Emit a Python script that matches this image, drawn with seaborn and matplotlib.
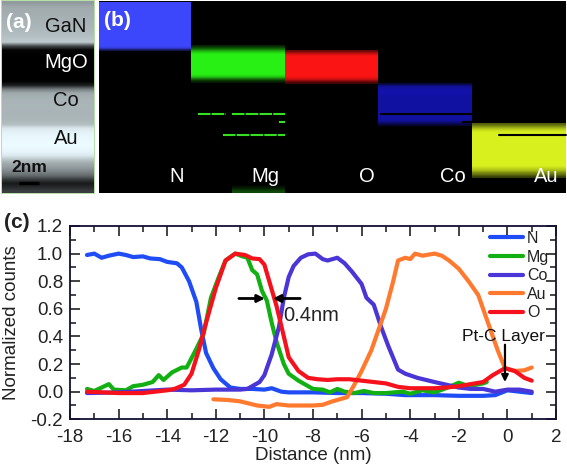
import numpy as np
import pandas as pd
import matplotlib
matplotlib.use("Agg")
import matplotlib.pyplot as plt
from matplotlib.ticker import MultipleLocator
import seaborn as sns

sns.set_theme(style="ticks")
plt.rcParams['font.family'] = ['Liberation Sans', 'DejaVu Sans']
plt.rcParams['axes.unicode_minus'] = False

# ---- line profile data ----
n_x = [-17.3,-17,-16.7,-16.4,-16,-15.7,-15.4,-15,-14.7,-14.3,-14,-13.6,-13.4,-13.1,-12.8,-12.6,-12.4,-12.1,-11.8,-11.4,-11,-10.5,-10,-9.7,-9.3,-9,-8,-7,-6,-5,-4.2,-4,-3,-2,-1,-0.5,0,0.5,1]
n_y = [.99,1.0,.97,.985,1.0,.99,.975,.98,.965,.96,.94,.93,.9,.8,.65,.45,.28,.17,.09,.03,.02,.02,.015,.025,.0,-.005,-.005,-.01,-.01,-.015,-.025,-.025,-.025,-.03,-.03,-.025,.01,.0,-.01]
mg_x = [-17.3,-17,-16.7,-16.4,-16.2,-15.7,-15.4,-15,-14.6,-14.35,-14.15,-13.8,-13.4,-13.2,-12.8,-12.5,-12.2,-11.9,-11.6,-11.2,-10.9,-10.7,-10.5,-10.3,-10.1,-9.9,-9.7,-9.5,-9.2,-9,-8.6,-8.3,-8,-7.6,-7.3,-7,-6.7,-6.3,-5.9,-5.5,-5,-4.3,-4,-3.5,-3,-2.6,-2,-1.6,-1,-0.85]
mg_y = [.02,.005,.03,.055,.015,.01,.04,.05,.07,.12,.085,.14,.175,.175,.31,.42,.68,.82,.95,1.0,.98,.97,.88,.85,.73,.66,.5,.36,.2,.13,.08,.05,.02,.015,-.005,.02,.0,-.01,.005,-.01,-.01,.0,-.015,.01,-.005,.02,.065,.04,.06,.07]
co_x = [-17.3,-16,-15,-14,-13,-12,-11,-10.7,-10.2,-10,-9.7,-9.4,-9.2,-9,-8.8,-8.5,-8.2,-7.9,-7.6,-7.4,-7,-6.7,-6.4,-6,-5.8,-5.5,-5.2,-4.9,-4.5,-4.2,-3.7,-3,-2.5,-2,-1.5,-1,-0.5,0,0.5,1]
co_y = [-.01,-.005,.005,.015,.01,.015,.015,.02,.07,.12,.27,.47,.68,.83,.91,.97,.995,1.0,.96,.95,.97,.93,.87,.78,.68,.63,.47,.33,.16,.13,.1,.07,.05,.03,.02,.02,.0,.015,.015,.0]
au_x = [-12.1,-11.5,-11,-10.3,-9.8,-9.5,-9,-8.5,-8,-7.6,-7.2,-6.6,-6.3,-6,-5.6,-5.3,-5,-4.7,-4.5,-4.2,-4,-3.8,-3.5,-3,-2.7,-2.4,-2,-1.6,-1.2,-0.8,-0.4,-0.1,0.3,0.7,1]
au_y = [-.055,-.06,-.07,-.1,-.11,-.09,-.1,-.1,-.1,-.095,-.07,-.04,.05,.15,.3,.45,.6,.8,.95,.97,.96,1.0,.985,1.0,.985,.95,.89,.8,.7,.5,.3,.17,.15,.155,.175]
o_x = [-17.3,-16,-15,-14.5,-14,-13.7,-13.3,-13,-12.7,-12.4,-12,-11.6,-11.2,-10.8,-10.5,-10.2,-10,-9.8,-9.5,-9.2,-9,-8.6,-8.2,-7.8,-7.4,-7,-6.5,-6,-5.5,-5,-4.5,-4,-3,-2.5,-2,-1.5,-1,-0.6,-0.1,0.3,0.7,1]
o_y = [0,-.01,-.01,0,.01,.02,.05,.13,.3,.5,.75,.95,1.0,.99,.965,.96,.92,.8,.62,.4,.25,.15,.1,.09,.085,.09,.09,.08,.07,.06,.035,.025,.025,.03,.04,.055,.07,.12,.17,.15,.1,.08]

series_names = ["N", "Mg", "Co", "Au", "O"]
series_x = [n_x, mg_x, co_x, au_x, o_x]
series_y = [n_y, mg_y, co_y, au_y, o_y]
series_colors = ["#1f4cf5", "#12b012", "#4a35d6", "#ff7a2e", "#f5121c"]

# ---- image panel data ----
stem_rows = [150,165,168,170,172,174,176,180,184,190,195,70,5,2,0,0,0,0,0,0,2,30,120,165,172,175,176,176,175,176,178,185,225,235,240,242,244,242,238,225,190,165,150,130,105,60,25,40,60]
band_colors = [(60,70,250), (40,240,20), (250,20,20), (20,20,190), (215,240,30)]
band_rows = [[1]*24 + [.85, .3],
             [.15,.3,.5,.75,.9,1,1,1,1,1,1,1,1,1,1,1,1,.95,.8,.5,.25,.1],
             [.4,.65,.85,1,1,1,1,1,1,1,1,1,1,1,1,1,.9,.75,.45,.25],
             [.3,.75,.85,.9,.9,.9,.85,.85,.85,.85,.85,.85,.85,.85,.85,.85,.85,.85,.8,.55,.25],
             [.4,.6,.8,.95,1,1,1,1,1,1,1,1,1,1,1,1,1,1,1,1,.9,.8,.6,.45,.25]]

fig = plt.figure(figsize=(5.67, 4.66), dpi=100)
bg = fig.add_axes([0, 0, 1, 1])

# panel (a)
stem = np.array(stem_rows)[:, None, None] * np.array([0.97, 1.03, 1.05])[None, None, :] / 255
bg.add_patch(plt.Rectangle((1, 0), 94, 194, fc="#b7e0a8", ec="none", zorder=-1))
bg.imshow(np.clip(stem, 0, 1), extent=(2, 94, 193, 1), aspect="auto", interpolation="bilinear")
# panel (b)
bg.imshow(np.zeros((1, 1, 3)), extent=(99, 566, 193, 1), aspect="auto")
band_boxes = [(99,191,2,51), (191,285,45,83), (285,378,50,84), (378,472,83,126), (472,566,123,178)]
for rows, col, box in zip(band_rows, band_colors, band_boxes):
    arr = (np.array(rows)[:, None, None] * np.array(col)[None, None, :]).astype(np.uint8)
    bg.imshow(arr, extent=(box[0], box[1], box[3], box[2]), aspect="auto", interpolation="bilinear")
faint = (np.array([0, .12, .3])[:, None, None] * np.array((40, 240, 20))[None, None, :]).astype(np.uint8)
bg.imshow(faint, extent=(232, 285, 193, 183), aspect="auto", interpolation="bilinear")
# detector artefact streaks
for x0, x1, y in [(198,226,113.5),(232,285,113.5),(279,285,122),(223,285,134.5)]:
    bg.plot([x0, x1], [y, y], color="#35e020", lw=1.5, ls=(0, (6, 0.6)), solid_capstyle="butt")
for x0, x1, y in [(381,472,114),(463,472,122),(499,566,134.5)]:
    bg.plot([x0, x1], [y, y], color="black", lw=1.5)
bg.set_xlim(0, 567); bg.set_ylim(466, 0); bg.axis("off")

for s, x, y, c in [("GaN",66,26,"#111111"),("MgO",66,63,"white"),("Co",66,101,"#111111"),("Au",66,139,"#111111")]:
    bg.text(x, y, s, color=c, fontsize=14.5, ha="center", va="center")
bg.text(6, 22, "(a)", color="white", fontsize=15, fontweight="bold", va="center")
bg.text(29, 167, "2nm", color="#111111", fontsize=12.5, fontweight="bold", ha="center", va="center")
bg.plot([19, 39], [183, 183], color="black", lw=2.5, solid_capstyle="butt")
bg.text(104, 20, "(b)", color="white", fontsize=15, fontweight="bold", va="center")
for s, x in [("N",177),("Mg",265),("O",367),("Co",453),("Au",546)]:
    bg.text(x, 177, s, color="white", fontsize=14.5, ha="center", va="center")
bg.text(4, 222, "(c)", color="#222222", fontsize=15, fontweight="bold", va="center")

# panel (c)
ax = fig.add_axes([70/567, 1-419.3/466, 486/567, 193.3/466])
for name, x, y, c in zip(series_names, series_x, series_y, series_colors):
    df = pd.DataFrame({"Distance (nm)": x, "Normalized counts": y})
    sns.lineplot(data=df, x="Distance (nm)", y="Normalized counts", ax=ax, color=c,
                 lw=3, label=name, estimator=None, sort=False)
ax.set_xlim(-18, 2); ax.set_ylim(-0.2, 1.2)
ax.xaxis.set_major_locator(MultipleLocator(2)); ax.xaxis.set_minor_locator(MultipleLocator(1))
ax.set_yticks(np.arange(-0.2, 1.21, 0.2))
ax.yaxis.set_minor_locator(MultipleLocator(0.1))
ax.tick_params(which="major", direction="in", length=7, width=1.2, top=True, right=True, labelsize=13.5, colors="#222222")
ax.tick_params(axis="x", which="major", pad=7)
ax.tick_params(axis="y", which="major", pad=5)
ax.tick_params(which="minor", direction="in", length=4, width=1.2, top=True, right=True)
for sp in ax.spines.values():
    sp.set_linewidth(1.3); sp.set_color("#111133")
ax.set_xlabel("Distance (nm)", fontsize=13.5, color="#222222", labelpad=1)
ax.set_ylabel("Normalized counts", fontsize=13.5, color="#222222")
ax.yaxis.set_label_coords(-0.103, 0.5)
ax.patch.set_alpha(0)
leg = ax.legend(loc="upper left", bbox_to_anchor=(0.864, 0.974), frameon=False, fontsize=11.5,
                handlelength=2.06, handletextpad=0.25, labelspacing=0.225, borderpad=0, borderaxespad=0)
for t in leg.get_texts():
    t.set_color("#222222")
arrow = dict(arrowstyle="-|>", color="black", lw=2, mutation_scale=11, shrinkA=0, shrinkB=0)
ax.annotate("", xy=(-9.98, 0.675), xytext=(-11.05, 0.675), arrowprops=arrow)
ax.annotate("", xy=(-9.65, 0.675), xytext=(-8.53, 0.675), arrowprops=arrow)
ax.text(-9.23, 0.55, "0.4nm", fontsize=14.5, color="#222222", va="center")
ax.text(-0.15, 0.4, "Pt-C Layer", fontsize=12.5, color="#111111", ha="center", va="center")
ax.annotate("", xy=(-0.1, 0.07), xytext=(-0.1, 0.34),
            arrowprops=dict(arrowstyle="-|>", color="black", lw=1.6, mutation_scale=10, shrinkA=0, shrinkB=0))

fig.savefig("out.png", dpi=100)
